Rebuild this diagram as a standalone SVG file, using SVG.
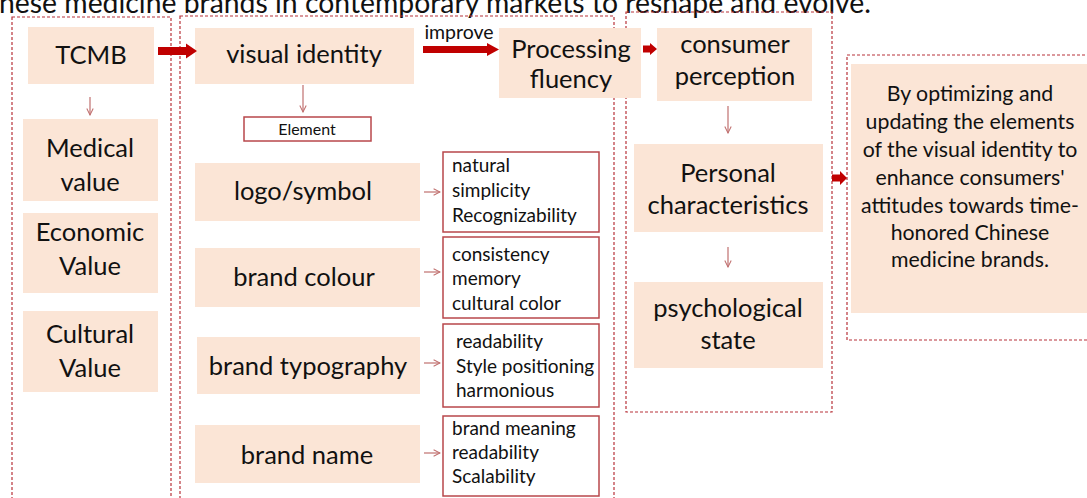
<svg xmlns="http://www.w3.org/2000/svg" width="1087" height="498" viewBox="0 0 1087 498">
<defs>
<style>
.dash{fill:none;stroke:#B8333A;stroke-width:1.2;stroke-dasharray:3 2}
.box{fill:#FBE5D6}
.ebox{fill:#fff;stroke:#B8474B;stroke-width:1.5}
.t{font-family:Lato,"Open Sans",sans-serif;fill:#111;text-anchor:middle}
.big{font-size:25.5px}
.sm{font-size:19px;text-anchor:start}
.rt{font-size:21.3px}
.thin{stroke:#C0706F;stroke-width:1.2;fill:none}
.blk{fill:#C00000}
</style>
<marker id="ah" viewBox="0 0 10 10" refX="9" refY="5" markerWidth="8" markerHeight="8" markerUnits="userSpaceOnUse" orient="auto">
<path d="M1,1 L9,5 L1,9" fill="none" stroke="#C0706F" stroke-width="1.3"/>
</marker>
</defs>
<rect width="1087" height="498" fill="#fff"/>
<text class="t" x="435" y="13" font-size="29" textLength="872" lengthAdjust="spacingAndGlyphs">nese medicine brands in contemporary markets to reshape and evolve.</text>

<g id="frames">
<rect class="dash" x="12" y="17" width="159" height="500"/>
<rect class="dash" x="180" y="16" width="434" height="500"/>
<rect class="dash" x="626" y="12" width="206" height="400"/>
<rect class="dash" x="847" y="55" width="260" height="285"/>
</g>

<g id="tcmb"><rect class="box" x="28" y="27" width="126" height="57"/><text class="t big" x="91" y="64">TCMB</text></g>
<g id="medical"><rect class="box" x="23" y="119" width="135" height="82"/><text class="t big" x="90" y="157">Medical</text><text class="t big" x="90" y="191">value</text></g>
<g id="economic"><rect class="box" x="23" y="213" width="135" height="80"/><text class="t big" x="90" y="241">Economic</text><text class="t big" x="90" y="275">Value</text></g>
<g id="cultural"><rect class="box" x="23" y="311" width="135" height="81"/><text class="t big" x="90" y="343">Cultural</text><text class="t big" x="90" y="377">Value</text></g>

<g id="visual"><rect class="box" x="195" y="28" width="219" height="56"/><text class="t big" x="304" y="63">visual identity</text></g>
<g id="element"><rect class="ebox" x="244" y="117" width="127" height="24"/><text class="t" x="307" y="135" font-size="16">Element</text></g>
<g id="logo"><rect class="box" x="195" y="163" width="225" height="58"/><text class="t big" x="303" y="200">logo/symbol</text></g>
<g id="colour"><rect class="box" x="195" y="248" width="225" height="59"/><text class="t big" x="304" y="286">brand colour</text></g>
<g id="typo"><rect class="box" x="197" y="337" width="223" height="57"/><text class="t big" x="308" y="375">brand typography</text></g>
<g id="bname"><rect class="box" x="195" y="425" width="225" height="58"/><text class="t big" x="307" y="464">brand name</text></g>

<g id="e1"><rect class="ebox" x="443" y="152" width="156" height="80"/><text class="t sm" x="452" y="172">natural</text><text class="t sm" x="452" y="197">simplicity</text><text class="t sm" x="452" y="222">Recognizability</text></g>
<g id="e2"><rect class="ebox" x="443" y="237" width="156" height="81"/><text class="t sm" x="452" y="261">consistency</text><text class="t sm" x="452" y="285">memory</text><text class="t sm" x="452" y="310">cultural color</text></g>
<g id="e3"><rect class="ebox" x="443" y="324" width="156" height="83"/><text class="t sm" x="456" y="348">readability</text><text class="t sm" x="456" y="373">Style positioning</text><text class="t sm" x="456" y="397">harmonious</text></g>
<g id="e4"><rect class="ebox" x="443" y="416" width="156" height="80"/><text class="t sm" x="452" y="435">brand meaning</text><text class="t sm" x="452" y="459">readability</text><text class="t sm" x="452" y="483">Scalability</text></g>

<g id="fluency"><rect class="box" x="499" y="28" width="142" height="70"/><text class="t big" x="571" y="58">Processing</text><text class="t big" x="571" y="88">fluency</text></g>
<g id="perception"><rect class="box" x="657" y="28" width="155" height="73"/><text class="t big" x="735" y="53">consumer</text><text class="t big" x="735" y="85">perception</text></g>
<g id="personal"><rect class="box" x="634" y="144" width="189" height="88"/><text class="t big" x="728" y="182">Personal</text><text class="t big" x="728" y="214">characteristics</text></g>
<g id="psych"><rect class="box" x="634" y="282" width="189" height="86"/><text class="t big" x="728" y="317">psychological</text><text class="t big" x="728" y="349">state</text></g>

<g id="conclusion"><rect class="box" x="851" y="64" width="240" height="249"/>
<text class="t rt" x="970" y="101">By optimizing and</text>
<text class="t rt" x="970" y="129">updating the elements</text>
<text class="t rt" x="970" y="157">of the visual identity to</text>
<text class="t rt" x="970" y="185">enhance consumers'</text>
<text class="t rt" x="970" y="213">attitudes towards time-</text>
<text class="t rt" x="970" y="240">honored Chinese</text>
<text class="t rt" x="970" y="267">medicine brands.</text>
</g>

<g id="connectors">
<polygon class="blk" points="158,47 186,47 186,43.5 197,51 186,58.5 186,55 158,55"/>
<polygon class="blk" points="423,46 487,46 487,43 499,49.5 487,56 487,53 423,53"/>
<text class="t" x="459" y="39" font-size="19.5">improve</text>
<polygon class="blk" points="643,45.5 650,45.5 650,43 657,49 650,55 650,52.5 643,52.5"/>
<polygon class="blk" points="832,174.5 840,174.5 840,171 847,178 840,185 840,181.5 832,181.5"/>
<line class="thin" x1="90" y1="97" x2="90" y2="115" marker-end="url(#ah)"/>
<line class="thin" x1="303" y1="85" x2="303" y2="112" marker-end="url(#ah)"/>
<line class="thin" x1="728" y1="106" x2="728" y2="133" marker-end="url(#ah)"/>
<line class="thin" x1="728" y1="247" x2="728" y2="267" marker-end="url(#ah)"/>
<line class="thin" x1="424" y1="192" x2="440" y2="192" marker-end="url(#ah)"/>
<line class="thin" x1="424" y1="272" x2="440" y2="272" marker-end="url(#ah)"/>
<line class="thin" x1="424" y1="363" x2="440" y2="363" marker-end="url(#ah)"/>
<line class="thin" x1="424" y1="453" x2="440" y2="453" marker-end="url(#ah)"/>
</g>
</svg>
